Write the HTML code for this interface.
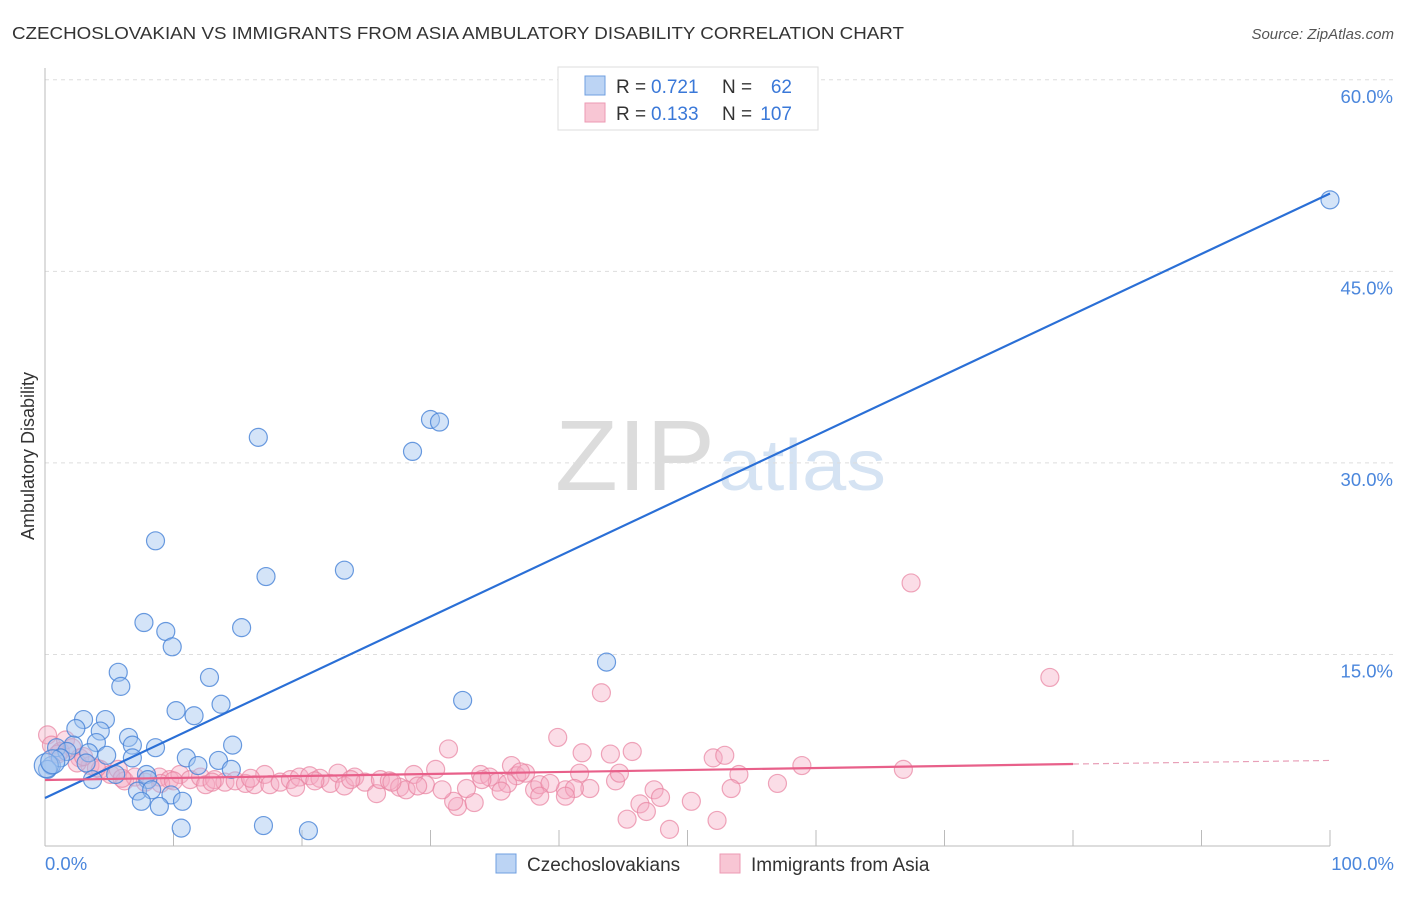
<!DOCTYPE html>
<html><head><meta charset="utf-8"><style>
body{margin:0;background:#fff;font-family:"Liberation Sans",sans-serif}
svg text{font-family:"Liberation Sans",sans-serif}
</style></head><body>
<svg id="chart" width="1406" height="892" viewBox="0 0 1406 892">
<text x="12" y="39" font-size="17.5" fill="#333" textLength="892" lengthAdjust="spacingAndGlyphs">CZECHOSLOVAKIAN VS IMMIGRANTS FROM ASIA AMBULATORY DISABILITY CORRELATION CHART</text>
<text x="1394" y="39" font-size="15" fill="#555" font-style="italic" text-anchor="end">Source: ZipAtlas.com</text>
<text x="555" y="490" font-size="100" fill="#dcdcdc" textLength="160" lengthAdjust="spacingAndGlyphs" font-family="Liberation Serif">ZIP</text>
<text x="718" y="490" font-size="72" fill="#d5e3f3" textLength="168" lengthAdjust="spacingAndGlyphs">atlas</text>
<g id="grid"></g>
<g id="axes"></g>
<g id="points"></g>
<g id="lines"></g>
<text transform="translate(34,456) rotate(-90)" font-size="18" fill="#333" text-anchor="middle">Ambulatory Disability</text>
<g>
<rect x="558" y="67" width="260" height="63" fill="#fff" stroke="#ddd"/>
<rect x="585" y="76" width="20" height="19" fill="#bcd4f4" stroke="#6f9fe0"/>
<rect x="585" y="103" width="20" height="19" fill="#f8c6d4" stroke="#ec9ab3"/>
<text x="616" y="93" font-size="19" fill="#333">R =</text>
<text x="651" y="93" font-size="19" fill="#3a78d8">0.721</text>
<text x="722" y="93" font-size="19" fill="#333">N =</text>
<text x="792" y="93" font-size="19" fill="#3a78d8" text-anchor="end">62</text>
<text x="616" y="120" font-size="19" fill="#333">R =</text>
<text x="651" y="120" font-size="19" fill="#3a78d8">0.133</text>
<text x="722" y="120" font-size="19" fill="#333">N =</text>
<text x="792" y="120" font-size="19" fill="#3a78d8" text-anchor="end">107</text>
</g>
<g>
<rect x="496" y="854" width="20" height="19" fill="#bcd4f4" stroke="#6f9fe0"/>
<text x="527" y="871" font-size="19" fill="#333">Czechoslovakians</text>
<rect x="720" y="854" width="20" height="19" fill="#f8c6d4" stroke="#ec9ab3"/>
<text x="751" y="871" font-size="19" fill="#333">Immigrants from Asia</text>
</g>
</svg>
<script>
const yTicks=[15,30,45,60];
const yTickLabels=["15.0%","30.0%","45.0%","60.0%"];
const xEndLabels=["0.0%","100.0%"];
const blueX=[100,30.0,30.7,28.6,16.6,8.6,17.2,23.3,7.7,15.3,9.4,9.9,43.7,5.7,5.9,12.8,32.5,10.2,13.7,11.6,3.0,4.7,2.4,4.3,6.5,14.6,8.6,6.8,4.0,2.2,0.9,1.7,3.4,4.8,6.8,11.0,11.9,13.5,0.5,1.2,0.2,3.2,5.5,7.9,3.7,14.5,8.0,7.2,8.3,9.8,7.5,8.9,10.7,10.6,17.0,20.5,0.1,0.6];
const blueY=[50.6,33.4,33.2,30.9,32.0,23.9,21.1,21.6,17.5,17.1,16.8,15.6,14.4,13.6,12.5,13.2,11.4,10.6,11.1,10.2,9.9,9.9,9.2,9.0,8.5,7.9,7.7,7.9,8.1,7.9,7.7,7.4,7.3,7.1,6.9,6.9,6.3,6.7,6.3,6.9,6.0,6.5,5.6,5.6,5.2,6.0,5.2,4.3,4.4,4.0,3.5,3.1,3.5,1.4,1.6,1.2,6.3,6.6];
const pinkX=[67.4,78.2,43.3,39.9,31.4,41.8,44.0,45.7,52.0,52.9,58.9,66.8,54.0,57.0,53.4,47.4,47.9,46.3,46.8,45.3,48.6,50.3,52.3,32.1,33.4,31.8,44.4,42.4,44.7,40.5,41.6,0.2,0.5,1.2,1.6,2.1,2.7,3.5,4.3,5.1,5.7,6.2,7.0,7.8,8.9,9.7,10.5,11.3,12.1,12.5,13.2,14.0,14.8,15.6,16.3,17.1,17.5,18.3,19.1,19.8,20.6,21.4,22.2,22.8,23.3,24.1,24.9,25.8,26.1,26.8,27.6,28.1,28.7,29.6,30.4,30.9,32.8,33.9,34.6,35.2,36.3,36.7,37.4,38.1,38.5,39.3,41.2,38.5,40.5,1.0,2.5,3.0,4.0,6.0,9.0,10.0,13.0,16.0,19.5,21.0,23.8,27.0,29.0,34.0,36.0,37.0,35.5];
const pinkY=[20.6,13.2,12.0,8.5,7.6,7.3,7.2,7.4,6.9,7.1,6.3,6.0,5.6,4.9,4.5,4.4,3.8,3.3,2.7,2.1,1.3,3.5,2.0,3.1,3.4,3.5,5.1,4.5,5.7,4.4,5.7,8.7,7.9,7.4,8.3,7.7,6.9,6.3,6.0,5.6,6.0,5.1,5.4,5.0,5.4,5.2,5.6,5.2,5.4,4.8,5.2,5.0,5.1,4.9,4.8,5.6,4.8,5.0,5.2,5.4,5.5,5.3,4.9,5.7,4.7,5.4,5.0,4.1,5.2,5.1,4.6,4.4,5.6,4.8,6.0,4.4,4.5,5.6,5.4,5.0,6.3,5.5,5.7,4.4,4.8,4.9,4.5,3.9,3.9,7.2,6.5,7.0,6.1,5.3,4.9,5.1,5.0,5.3,4.6,5.1,5.2,5.0,4.7,5.2,4.9,5.8,4.3];
const blueTrend=[3.76,51.1];
const pinkTrend=[5.17,6.42,6.7];
const NS='http://www.w3.org/2000/svg';
const X=v=>45+v*12.85, Y=v=>846-v*12.77;
function mk(tag,attrs,parent){const e=document.createElementNS(NS,tag);for(const k in attrs)e.setAttribute(k,attrs[k]);parent.appendChild(e);return e;}
const grid=document.getElementById('grid'),axes=document.getElementById('axes'),pts=document.getElementById('points'),lines=document.getElementById('lines');
yTicks.forEach((t,i)=>{
 const l=mk('line',{x1:45,x2:1394,y1:Y(t),y2:Y(t),stroke:'#ddd','stroke-dasharray':'4,4'},grid);
 
 
 const tx=mk('text',{x:1393,y:Y(t)+23,'font-size':18.5,fill:'#4a86dc','text-anchor':'end'},axes);
 tx.textContent=yTickLabels[i];
 
 
});
const la=mk('line',{x1:45,x2:45,y1:68,y2:846,stroke:'#bbb'},axes);


const lb=mk('line',{x1:45,x2:1330,y1:846,y2:846,stroke:'#bbb'},axes);


for(let i=0;i<=10;i++){
 const tk=mk('line',{x1:X(i*10),x2:X(i*10),y1:830,y2:846,stroke:'#bbb'},axes);
 
 
}
[[0,'start',45],[1,'end',1394]].forEach(([i,a,x])=>{
 const tx=mk('text',{x:x,y:870,'font-size':18.5,fill:'#4a86dc','text-anchor':a},axes);
 tx.textContent=xEndLabels[i];
 
 
});
pinkX.forEach((x,i)=>{
 const c=mk('circle',{cx:X(x),cy:Y(pinkY[i]),r:9,fill:'rgba(245,170,195,0.4)',stroke:'rgba(232,130,160,0.7)','stroke-width':1.2},pts);
 
 
});
blueX.forEach((x,i)=>{
 const c=mk('circle',{cx:X(x),cy:Y(blueY[i]),r:i>=blueX.length-2?12:9,fill:'rgba(160,195,240,0.45)',stroke:'rgba(70,130,215,0.8)','stroke-width':1.2},pts);
 
 
});
const bl=mk('line',{x1:X(0),y1:Y(blueTrend[0]),x2:X(100),y2:Y(blueTrend[1]),stroke:'#2a6fd6','stroke-width':2.2},lines);


const pl=mk('line',{x1:X(0),y1:Y(pinkTrend[0]),x2:X(80),y2:Y(pinkTrend[1]),stroke:'#e8608a','stroke-width':2.2},lines);


const pd=mk('line',{x1:X(80),y1:Y(pinkTrend[1]),x2:X(100),y2:Y(pinkTrend[2]),stroke:'#e8a0b8','stroke-width':1.2,'stroke-dasharray':'6,4'},lines);


</script>
</body></html>
